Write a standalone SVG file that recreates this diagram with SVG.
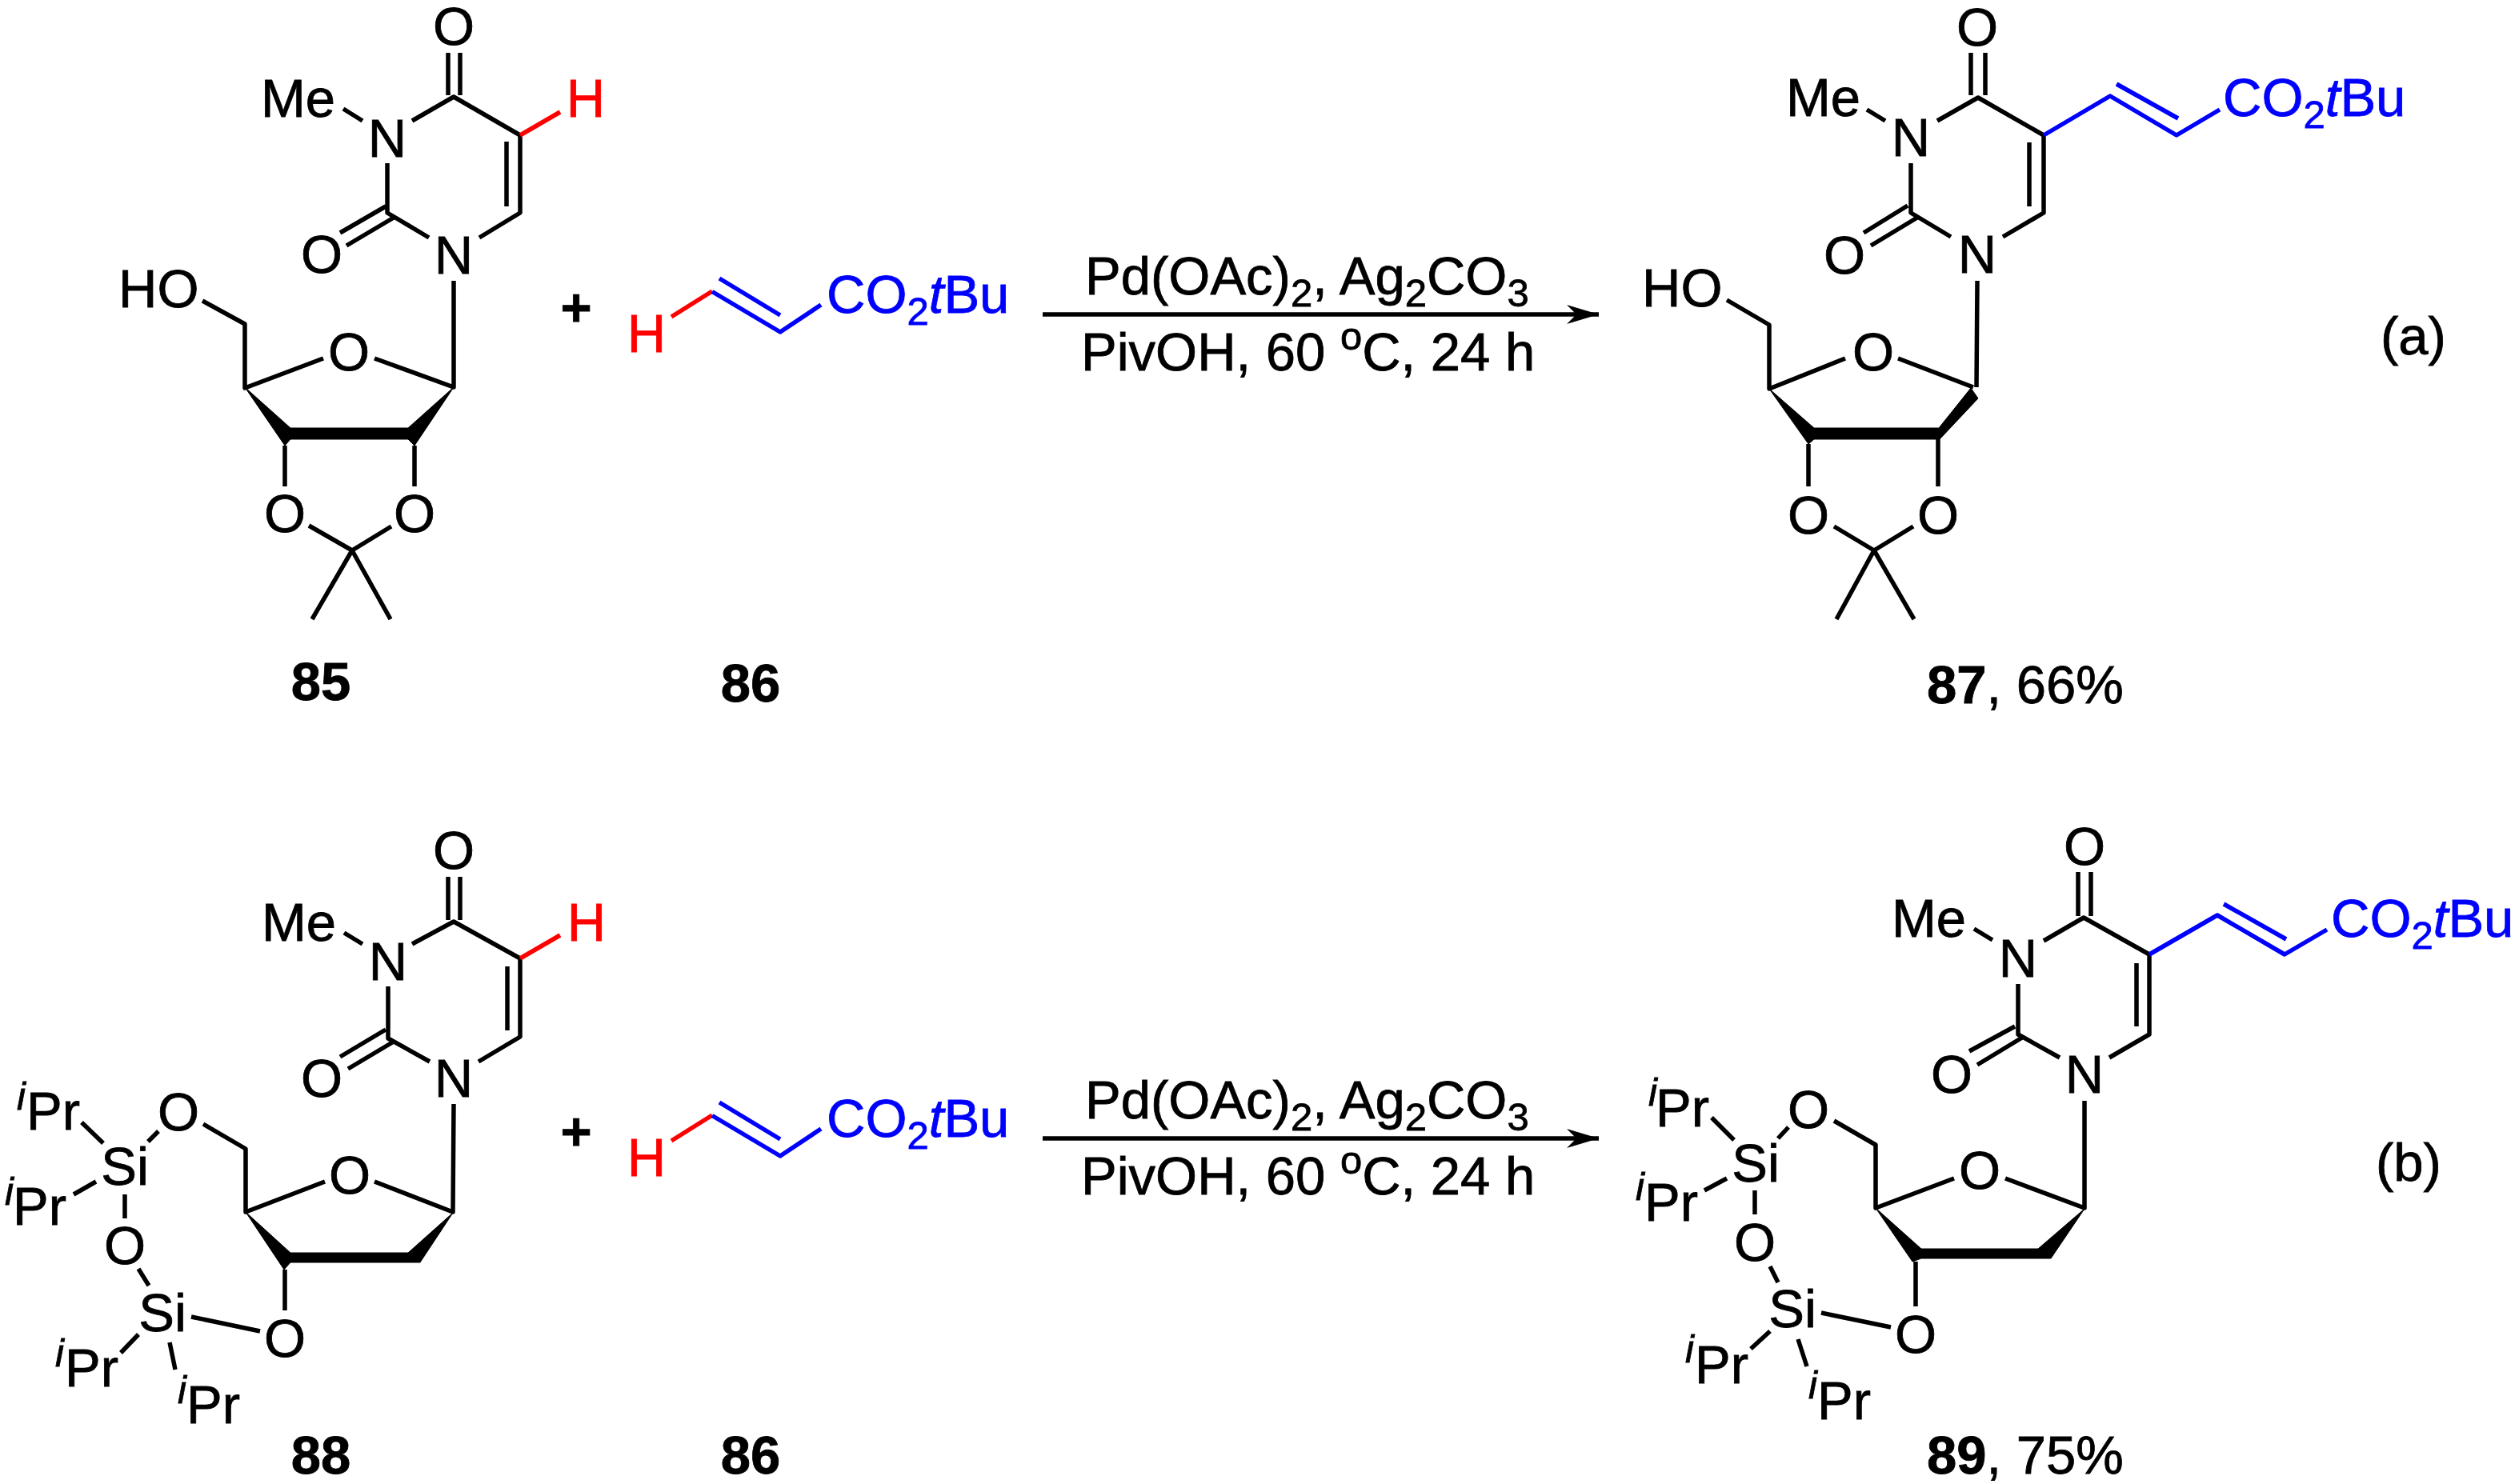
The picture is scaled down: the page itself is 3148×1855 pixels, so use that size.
<svg xmlns="http://www.w3.org/2000/svg" width="3148" height="1855" viewBox="0 0 3148 1855">
<style>
text{font-family:"Liberation Sans",Arial,sans-serif;font-size:67px;fill:#000;stroke:#000;stroke-width:.8}
.c{text-anchor:middle}
.b{font-weight:bold}
.s{font-size:49px}
.it{font-style:italic}
.red{fill:#f00;stroke:#f00}
.blue{fill:#00f;stroke:#00f}
path.k,path.r,path.u{fill:none;stroke-width:5.500;stroke-linecap:butt;stroke-linejoin:round}
path.k{stroke:#000}
path.r{stroke:#f00}
path.u{stroke:#00f}
.w{fill:#000;stroke:#000;stroke-width:1}
</style>
<defs>
<marker id="ah" markerUnits="userSpaceOnUse" markerWidth="42" markerHeight="26" refX="40" refY="12" orient="auto"><path d="M0 0L40 12L0 24L12 12Z" fill="#000"/></marker>
</defs>
<rect width="3148" height="1855" fill="#fff"/>

<g id="connectors">
<path class="k" d="M1303 393H1998" marker-end="url(#ah)"/>
<path class="k" d="M1303 1423H1998" marker-end="url(#ah)"/>
</g>

<g id="cond-a">
<text x="1356" y="368">Pd(OAc)<tspan class="s" dy="15">2</tspan><tspan dy="-15">, Ag</tspan><tspan class="s" dy="15">2</tspan><tspan dy="-15">CO</tspan><tspan class="s" dy="15">3</tspan></text>
<text x="1351" y="463">PivOH, 60 <tspan class="s" dy="-26">o</tspan><tspan dy="26">C, 24 h</tspan></text>
</g>
<g id="cond-b">
<text x="1356" y="1398">Pd(OAc)<tspan class="s" dy="15">2</tspan><tspan dy="-15">, Ag</tspan><tspan class="s" dy="15">2</tspan><tspan dy="-15">CO</tspan><tspan class="s" dy="15">3</tspan></text>
<text x="1351" y="1493">PivOH, 60 <tspan class="s" dy="-26">o</tspan><tspan dy="26">C, 24 h</tspan></text>
</g>

<g id="cpd85">
<path class="k" d="M560 66V119M575 66V119M453 151L429 136M515 151L567 121L650 169V266L599 297M633 177V258M536 297L484 266V204M482 258L425 291M492 272L433 307M567 351L567 484L468 448M404 448L306 485V405L253 376M356 557V608M518 557V608M386 657L440 688L489 658M440 688L390 774M440 688L488 774"/>
<path class="w" d="M306 484L363 535H510L567 484L518 557L510 549H363L356 557Z"/>
<path class="r" d="M650 169L700 140"/>
<text class="c" x="567" y="56">O</text>
<text x="326" y="146">Me</text>
<text class="c" x="484" y="196">N</text>
<text class="c red" x="732" y="146">H</text>
<text class="c" x="402" y="341">O</text>
<text class="c" x="567" y="342">N</text>
<text x="148" y="384">HO</text>
<text class="c" x="436" y="463">O</text>
<text class="c" x="356" y="665">O</text>
<text class="c" x="518" y="665">O</text>
<text class="c b" x="401" y="875">85</text>
</g>

<text id="plus-a" class="c b" x="720" y="407">+</text>

<g id="cpd86-a">
<path class="r" d="M839 396L890 364"/>
<path class="u" d="M890 364.500L975 415L1026 381M899 348L975 394"/>
<text class="c red" x="808" y="440">H</text>
<text class="blue" x="1033" y="391">CO<tspan class="s" dy="15">2</tspan><tspan class="it" dy="-15">t</tspan>Bu</text>
<text class="c b" x="938" y="877">86</text>
</g>

<g id="cpd87">
<path class="k" d="M2463 66V119M2481 66V119M2356 151L2333 137M2421 151L2472 122L2554 169V266L2503 296M2536 178V258M2438 296L2388 266V204M2384 257L2329 291M2396 272L2338 307M2471 351L2470 484M2372 448L2466 484M2306 448L2211 486V406L2158 375M2260 555V608M2422 544V608M2292 658L2342 688L2391 658M2342 688L2295 774M2342 688L2392 774"/>
<path class="w" d="M2211 486L2267 535H2423L2463 485L2472 498L2424 549H2267L2260 555Z"/>
<path class="u" d="M2554 169L2637 120L2720 169L2774 137M2645 105L2722 148"/>
<text class="c" x="2471" y="57">O</text>
<text x="2232" y="145">Me</text>
<text class="c" x="2388" y="195">N</text>
<text class="c" x="2305" y="342">O</text>
<text class="c" x="2471" y="341">N</text>
<text x="2052" y="383">HO</text>
<text class="c" x="2341" y="463">O</text>
<text class="c" x="2260" y="667">O</text>
<text class="c" x="2422" y="667">O</text>
<text class="blue" x="2778" y="145">CO<tspan class="s" dy="15">2</tspan><tspan class="it" dy="-15">t</tspan>Bu</text>
<text class="c" x="3016" y="443">(a)</text>
<text x="2408" y="879"><tspan class="b">87</tspan>, 66%</text>
</g>

<g id="cpd88">
<path class="k" d="M560 1096V1150M575 1096V1150M453 1180L430 1166M515 1180L567 1152L650 1198V1296L598 1327M634 1208V1288M537 1327L485 1298V1233M482 1287L425 1321M492 1302L435 1336M567 1380L566 1515L468 1477M406 1477L307 1515V1436L254 1405M198 1414L185 1427M102 1403L129 1429M92 1493L120 1477M156 1493V1523M173 1586L186 1607M239 1646L325 1664M356 1587V1638M151 1691L173 1668M212 1678L219 1712"/>
<path class="w" d="M307 1515L363 1566H510L566 1516L525 1578H363L355 1587Z"/>
<path class="r" d="M650 1198L700 1169"/>
<text class="c" x="567" y="1086">O</text>
<text x="327" y="1176">Me</text>
<text class="c" x="485" y="1225">N</text>
<text class="c red" x="733" y="1176">H</text>
<text class="c" x="402" y="1371">O</text>
<text class="c" x="567" y="1371">N</text>
<text class="c" x="223" y="1413">O</text>
<text class="c" x="437" y="1492">O</text>
<text class="c" x="156" y="1481">Si</text>
<text class="c" x="156" y="1580">O</text>
<text class="c" x="203" y="1664">Si</text>
<text class="c" x="356" y="1696">O</text>
<text x="21" y="1387"><tspan class="s it">i</tspan><tspan x="33" dy="25">Pr</tspan></text>
<text x="6" y="1506"><tspan class="s it">i</tspan><tspan x="16" dy="25">Pr</tspan></text>
<text x="69" y="1708"><tspan class="s it">i</tspan><tspan x="81" dy="25">Pr</tspan></text>
<text x="222" y="1754"><tspan class="s it">i</tspan><tspan x="233" dy="25">Pr</tspan></text>
<text class="c b" x="401" y="1842">88</text>
</g>

<text id="plus-b" class="c b" x="720" y="1437">+</text>

<g id="cpd86-b">
<path class="r" d="M839 1426L890 1394"/>
<path class="u" d="M890 1394.500L975 1445L1026 1411M899 1378L975 1424"/>
<text class="c red" x="808" y="1470">H</text>
<text class="blue" x="1033" y="1421">CO<tspan class="s" dy="15">2</tspan><tspan class="it" dy="-15">t</tspan>Bu</text>
<text class="c b" x="938" y="1842">86</text>
</g>

<g id="cpd89">
<path class="k" d="M2597 1090V1145M2613 1090V1145M2490 1175L2467 1161M2554 1176L2604 1147L2686 1193V1293L2636 1322M2670 1204V1283M2574 1322L2522 1293V1230M2518 1283L2461 1314M2527 1297L2471 1331M2605 1376V1510L2506 1473M2442 1473L2344 1510V1431L2292 1401M2235 1409L2222 1423M2139 1397L2167 1425M2130 1488L2158 1473M2193 1488V1518M2212 1583L2222 1603M2276 1641L2363 1659M2394 1577V1633M2188 1686L2212 1664M2247 1674L2258 1708"/>
<path class="w" d="M2344 1510L2401 1561H2547L2605 1511L2563 1573H2401L2390 1577Z"/>
<path class="u" d="M2686 1193L2771 1144L2855 1193L2908 1162M2779 1130L2857 1174"/>
<text class="c" x="2605" y="1081">O</text>
<text x="2364" y="1171">Me</text>
<text class="c" x="2522" y="1221">N</text>
<text class="c" x="2439" y="1366">O</text>
<text class="c" x="2605" y="1366">N</text>
<text class="c" x="2260" y="1410">O</text>
<text class="c" x="2474" y="1486">O</text>
<text class="c" x="2194" y="1477">Si</text>
<text class="c" x="2193" y="1576">O</text>
<text class="c" x="2240" y="1659">Si</text>
<text class="c" x="2394" y="1691">O</text>
<text x="2060" y="1382"><tspan class="s it">i</tspan><tspan x="2069" dy="26">Pr</tspan></text>
<text x="2044" y="1500"><tspan class="s it">i</tspan><tspan x="2055" dy="26">Pr</tspan></text>
<text x="2106" y="1703"><tspan class="s it">i</tspan><tspan x="2118" dy="26">Pr</tspan></text>
<text x="2260" y="1748"><tspan class="s it">i</tspan><tspan x="2271" dy="26">Pr</tspan></text>
<text class="blue" x="2913" y="1171">CO<tspan class="s" dy="15">2</tspan><tspan class="it" dy="-15">t</tspan>Bu</text>
<text class="c" x="3010" y="1476">(b)</text>
<text x="2408" y="1842"><tspan class="b">89</tspan>, 75%</text>
</g>
</svg>
